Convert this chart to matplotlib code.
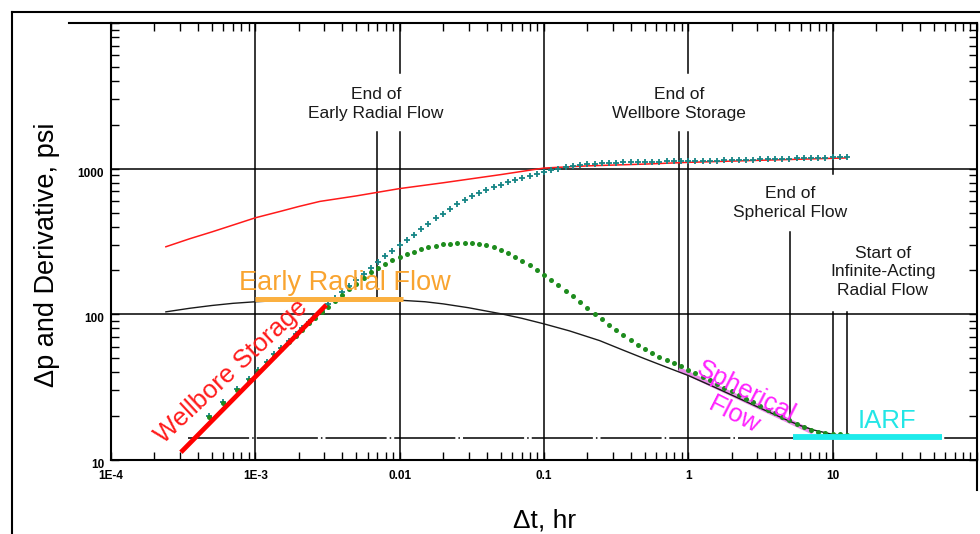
import matplotlib
matplotlib.use("Agg")
import matplotlib.pyplot as plt
import matplotlib.transforms as mtransforms
from matplotlib.lines import Line2D
from matplotlib.ticker import FixedLocator, LogLocator, NullFormatter

plt.rcParams['font.family'] = ['Liberation Sans', 'DejaVu Sans']

# measured pressure derivative (green dots)
t_deriv = [4.8e-4, 6.0e-4, 7.5e-4, 9.0e-4, 1.05e-3, 1.2e-3, 1.35e-3, 1.5e-3, 1.7e-3, 1.9e-3,
           2.1e-3, 2.35e-3, 2.6e-3, 2.9e-3, 3.2e-3, 3.55e-3, 3.98e-3, 4.47e-3, 5.01e-3, 5.62e-3,
           6.31e-3, 7.08e-3, 7.94e-3, 8.91e-3, 0.01, 0.0112, 0.0126, 0.0141, 0.0158, 0.0178,
           0.02, 0.0224, 0.0251, 0.0282, 0.0316, 0.0355, 0.0398, 0.0447, 0.0501, 0.0562,
           0.0631, 0.0708, 0.0794, 0.0891, 0.1, 0.112, 0.126, 0.141, 0.158, 0.178,
           0.2, 0.224, 0.251, 0.282, 0.316, 0.355, 0.398, 0.447, 0.501, 0.562,
           0.631, 0.708, 0.794, 0.891, 1.0, 1.12, 1.26, 1.41, 1.58, 1.78,
           2.0, 2.24, 2.51, 2.82, 3.16, 3.55, 3.98, 4.47, 5.01, 5.62,
           6.31, 7.08, 7.94, 8.91, 10.0, 11.2, 12.6]
dp_deriv = [19.8, 24.5, 30, 35.5, 41, 46.5, 52, 57.5, 64.5, 71.5,
            78.5, 87, 95, 104, 113, 123, 136, 149, 162, 178,
            194, 209, 223, 236, 247, 258, 269, 279, 288, 296,
            302, 306, 309, 310, 309, 305, 298, 289, 277, 263,
            248, 233, 217, 201, 187, 172, 158, 145, 133, 122,
            111, 101, 93, 85, 78.5, 72.5, 67, 62, 58, 54.5,
            51, 48.5, 46, 44, 41.5, 39.3, 37.2, 35.2, 33.3, 31.4,
            29.6, 28, 26.4, 24.9, 23.5, 22.2, 21, 19.8, 18.7, 17.7,
            16.8, 16.1, 15.6, 15.3, 15.1, 15.0, 14.9]

# measured pressure change (teal crosses)
t_press = t_deriv
dp_press = [20.2, 25, 30.6, 36.2, 41.8, 47.4, 53, 58.7, 65.8, 73,
            80, 88.7, 97, 106, 117, 129, 142, 157, 173, 190,
            208, 229, 251, 273, 297, 322, 352, 385, 418, 455,
            492, 530, 568, 608, 648, 685, 717, 748, 778, 805,
            833, 860, 886, 920, 950, 975, 998, 1020, 1040, 1057,
            1070, 1080, 1088, 1095, 1100, 1104, 1108, 1111, 1114, 1116,
            1118, 1120, 1122, 1124, 1126, 1128, 1130, 1133, 1136, 1139,
            1142, 1146, 1150, 1154, 1158, 1162, 1166, 1170, 1174, 1178,
            1182, 1185, 1188, 1191, 1194, 1197, 1200]

# model pressure change (red) and model derivative (black)
t_model_p = [2.4e-4, 3.5e-4, 5e-4, 7e-4, 1e-3, 1.5e-3, 2e-3, 2.8e-3, 5e-3, 0.01,
             0.02, 0.05, 0.1, 0.2, 0.5, 1.0, 3.0, 12.5]
dp_model_p = [291, 330, 368, 410, 460, 510, 550, 596, 650, 730,
              800, 910, 1010, 1045, 1075, 1105, 1140, 1185]
t_model_d = [2.4e-4, 3.5e-4, 5e-4, 7e-4, 1e-3, 2e-3, 3e-3, 5e-3, 0.01, 0.015,
             0.02, 0.03, 0.05, 0.07, 0.1, 0.15, 0.243, 0.35, 0.5, 0.7,
             1.0, 1.5, 2.0, 3.0, 5.0, 6.0, 7.5, 10.0, 12.5]
dp_model_d = [104, 110, 115, 119, 122, 126, 127, 127, 125, 122,
              118, 111, 101, 94, 86, 77, 66, 57, 49.5, 43.5,
              38, 31.8, 27.9, 23.2, 18.5, 17.2, 16.0, 15.0, 14.8]

# flow regime straight lines
wbs_t, wbs_dp = [3.05e-4, 3.1e-3], [11.3, 116]
erf_t, erf_dp = [1e-3, 0.0105], [128, 128]
sph_t, sph_dp = [0.86, 7.3], [42, 15.5]
iarf_t, iarf_dp = [5.3, 57], [14.4, 14.4]
iarf_ref_t, iarf_ref_dp = [3.4e-4, 100], [14.2, 14.2]

# regime boundary markers: time, bottom, top
event_t = [0.007, 0.86, 5.04, 12.5]
event_lo = [128, 41.5, 18, 14.2]
event_hi = [1795, 1795, 369, 104]

x_ticks = [1e-4, 1e-3, 0.01, 0.1, 1, 10, 100]
x_labels = ["1E-4", "1E-3", "0.01", "0.1", "1", "10", ""]
y_ticks = [10, 100, 1000, 10000]
y_labels = ["10", "100", "1000", ""]

W, H = 980, 534
fig = plt.figure(figsize=(W / 100, H / 100), dpi=100)
ax = fig.add_axes([111 / W, 74 / H, 866 / W, 437 / H])
ax.set_xscale('log')
ax.set_yscale('log')
ax.set_xlim(1e-4, 100)
ax.set_ylim(10, 1e4)

# grid: some vertical lines are broken where the labels sit
grid_segments = [(1e-3, 10, 1e4), (0.01, 10, 1795), (0.01, 4570, 1e4), (0.1, 10, 1e4),
                 (1, 10, 1795), (1, 4570, 1e4), (10, 10, 104), (10, 920, 1e4)]
for gx, lo, hi in grid_segments:
    ax.plot([gx, gx], [lo, hi], color='black', lw=1.1, zorder=1)
for gy in [100, 1000]:
    ax.axhline(gy, color='black', lw=1.1, zorder=1)
for et, lo, hi in zip(event_t, event_lo, event_hi):
    ax.plot([et, et], [lo, hi], color='black', lw=1.1, zorder=1)

ax.plot(iarf_ref_t, iarf_ref_dp, color='black', lw=1.1, dashes=(40, 2, 1, 2), zorder=1.5)

ax.plot(sph_t, sph_dp, color='#E98BE9', lw=3.4, solid_capstyle='butt', zorder=2)
ax.plot(t_model_p, dp_model_p, color='#FF1A1A', lw=1.1, zorder=3)
ax.plot(t_model_d, dp_model_d, color='#1A1A1A', lw=1.0, zorder=3)
ax.plot(t_press, dp_press, '+', color='#168585', ms=4.5, mew=1.3, zorder=4)
ax.plot(t_deriv, dp_deriv, 'o', color='#1E8C1E', ms=3.6, mew=0, zorder=4.5)
ax.plot(wbs_t, wbs_dp, color='#FF0000', lw=3.4, solid_capstyle='butt', zorder=5)
ax.plot(erf_t, erf_dp, color='#FBB040', lw=3.6, solid_capstyle='butt', zorder=5)
ax.plot(iarf_t, iarf_dp, color='#1EEBEB', lw=4.2, solid_capstyle='butt', zorder=5)

# annotations
note_kw = dict(fontsize=12.5, ha='center', va='center', linespacing=1.3, color='#1a1a1a', zorder=6)
ax.text(6.84e-3, 2773, "End of\nEarly Radial Flow", **note_kw)
ax.text(0.858, 2773, "End of\nWellbore Storage", **note_kw)
ax.text(5.04, 583, "End of\nSpherical Flow", **note_kw)
ax.text(22.2, 196, "Start of\nInfinite-Acting\nRadial Flow", **note_kw)

ax.text(4.14e-3, 147, "Early Radial Flow", fontsize=19.5, color='#F9A430', ha='center', va='baseline', zorder=6)
ax.text(6.78e-4, 40.3, "Wellbore Storage", fontsize=18.5, color='#FF1A1A', ha='center', va='center',
        rotation=43, rotation_mode='anchor', zorder=6)
ax.text(2.29, 24.4, "Spherical\nFlow", fontsize=18.5, color='#FF22FF', ha='center', va='center',
        rotation=-27, rotation_mode='anchor', linespacing=1.15, zorder=6)
ax.text(23.7, 16.6, "IARF", fontsize=18.5, color='#22E6E6', ha='center', va='baseline', zorder=6)

# axes styling
ax.xaxis.set_major_locator(FixedLocator(x_ticks))
ax.xaxis.set_minor_locator(LogLocator(base=10, subs=range(2, 10), numticks=20))
ax.xaxis.set_minor_formatter(NullFormatter())
ax.set_xticklabels(x_labels)
ax.yaxis.set_major_locator(FixedLocator(y_ticks))
ax.yaxis.set_minor_locator(LogLocator(base=10, subs=range(2, 10), numticks=20))
ax.yaxis.set_minor_formatter(NullFormatter())
ax.set_yticklabels(y_labels)
ax.tick_params(which='both', direction='in', top=True, right=True, width=1.0, color='black')
ax.tick_params(which='major', length=6)
ax.tick_params(which='minor', length=6)
ax.tick_params(axis='x', pad=7)
ax.tick_params(axis='y', pad=5)
for lab in ax.get_xticklabels() + ax.get_yticklabels():
    lab.set_fontsize(8.5)
    lab.set_fontweight('bold')
shift = mtransforms.ScaledTranslation(0, -3.5 / 100, fig.dpi_scale_trans)
for lab in ax.get_yticklabels():
    lab.set_transform(lab.get_transform() + shift)
for sp in ax.spines.values():
    sp.set_linewidth(1.5)

fig.text(47 / W, 1 - 255 / H, "Δp and Derivative, psi", rotation=90, fontsize=19.5,
         ha='center', va='center')
# the x title sits right at the lower edge, as in the source image
fig.text(545 / W, 1.5 / H, "Δt, hr", fontsize=19, ha='center', va='bottom')


# outer frame and stray axis extensions, in pixel positions
def px_line(x0, y0, x1, y1, lw=1.5):
    fig.add_artist(Line2D([x0 / W, x1 / W], [1 - y0 / H, 1 - y1 / H], color='black', lw=lw,
                          transform=fig.transFigure))


px_line(12, 12, 980, 12)
px_line(12, 12, 12, 534)
px_line(69, 23, 111, 23)
px_line(977, 460, 977, 490)

fig.savefig("out.png", dpi=100)
